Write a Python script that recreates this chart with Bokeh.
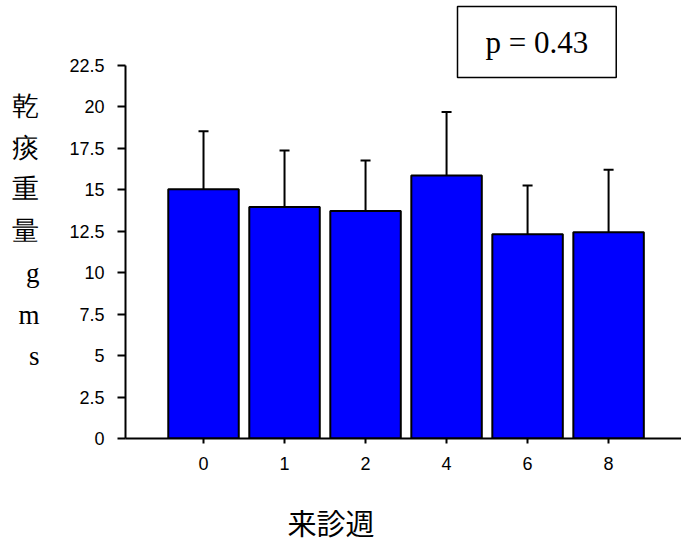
from bokeh.plotting import figure
from bokeh.models import Range1d, FixedTicker, CustomJSTickFormatter, Whisker, TeeHead, ColumnDataSource, Title
from bokeh.embed import file_html
from bokeh.resources import INLINE

weeks = ["0", "1", "2", "4", "6", "8"]
means = [15.04, 13.97, 13.73, 15.86, 12.32, 12.44]
upper = [18.53, 17.37, 16.77, 19.70, 15.26, 16.21]
y_ticks = [0, 2.5, 5, 7.5, 10, 12.5, 15, 17.5, 20, 22.5]
y_label_chars = ["乾", "痰", "重", "量", "g", "m", "s"]
x_label = "来診週"
p_text = "p = 0.43"

xs = list(range(len(weeks)))
src = ColumnDataSource(dict(x=xs, top=means, upper=upper, week=weeks))

p = figure(width=681, height=547, output_backend="svg", toolbar_location=None,
           x_range=Range1d(-0.963, 5.90), y_range=Range1d(0, 22.5),
           min_border_left=125, min_border_top=65, min_border_right=0, min_border_bottom=109)
p.outline_line_color = None
p.grid.visible = False
p.background_fill_color = "white"

p.vbar(x="x", top="top", width=0.87, bottom=0, source=src,
       fill_color="#0000FF", line_color="black", line_width=2)
wh = Whisker(base="x", lower="top", upper="upper", source=src,
             line_color="black", line_width=2,
             upper_head=TeeHead(size=10, line_color="black", line_width=2),
             lower_head=None)
p.add_layout(wh)

# x axis
p.xaxis.ticker = FixedTicker(ticks=xs)
p.xaxis.major_label_overrides = {i: w for i, w in enumerate(weeks)}
p.xaxis.minor_tick_line_color = None
p.xaxis.major_tick_in = 0
p.xaxis.major_tick_out = 5
p.xaxis.major_tick_line_width = 2
p.xaxis.axis_line_width = 2
p.xaxis.major_label_text_font = "Liberation Sans"
p.xaxis.major_label_text_font_size = "18px"
p.xaxis.major_label_text_color = "black"
p.xaxis.major_label_standoff = 13
# trailing ideographic spaces shift the centred label left, as in the reference
p.xaxis.axis_label = x_label + "\u3000" * 5
p.xaxis.axis_label_text_font = "Liberation Serif, Noto Sans CJK JP"
p.xaxis.axis_label_text_font_style = "normal"
p.xaxis.axis_label_text_font_size = "29px"
p.xaxis.axis_label_text_color = "black"
p.xaxis.axis_label_standoff = 36

# y axis
p.yaxis.ticker = FixedTicker(ticks=y_ticks)
p.yaxis.formatter = CustomJSTickFormatter(code="return String(tick)")
p.yaxis.minor_tick_line_color = None
p.yaxis.major_tick_in = 0
p.yaxis.major_tick_out = 8
p.yaxis.major_tick_line_width = 2
p.yaxis.axis_line_width = 2
p.yaxis.major_label_text_font = "Liberation Sans"
p.yaxis.major_label_text_font_size = "18px"
p.yaxis.major_label_text_color = "black"
p.yaxis.major_label_standoff = 13
p.yaxis.axis_label = "\n".join(y_label_chars) + "\n"
p.yaxis.axis_label_orientation = "horizontal"
p.yaxis.axis_label_text_font = "Liberation Serif"
p.yaxis.axis_label_text_font_style = "normal"
p.yaxis.axis_label_text_font_size = "27px"
p.yaxis.axis_label_text_line_height = 1.39
p.yaxis.axis_label_text_color = "black"
p.yaxis.axis_label_standoff = 27

# p-value box as a boxed title above
p.add_layout(Title(text=p_text, align="left", offset=332,
                   text_font="Liberation Serif", text_font_style="normal",
                   text_font_size="31px", text_color="black",
                   border_line_color="black", border_line_width=1.5,
                   background_fill_color="white",
                   padding=dict(left=28, right=28, top=18, bottom=18), standoff=-24), "above")

open("out.html", "w").write(file_html(p, INLINE))
